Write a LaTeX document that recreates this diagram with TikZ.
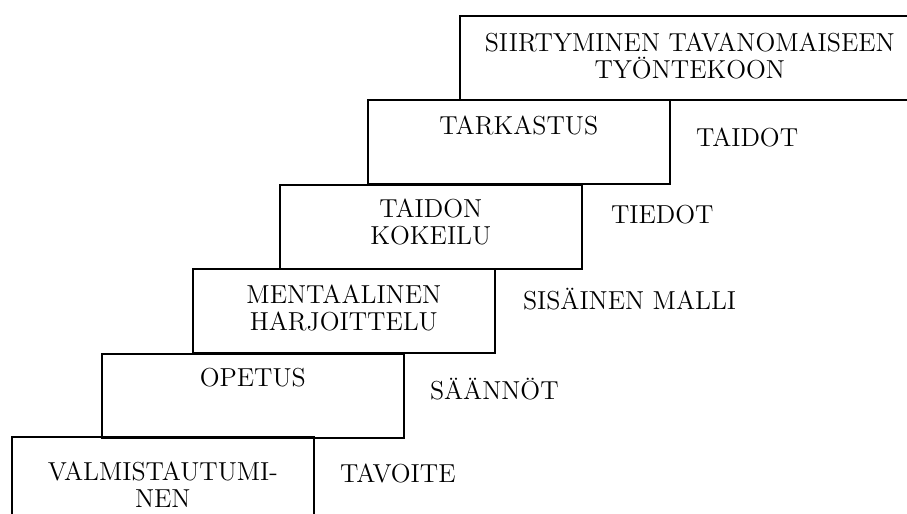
\documentclass[tikz,border=0pt]{standalone}
\usepackage{tikz}
\usetikzlibrary{positioning}

\tikzset{
  stepbox/.style={draw, line width=0.8pt, anchor=north west, minimum width=151pt, minimum height=42pt, inner sep=0pt},
  steptext/.style={inner sep=0pt, align=center, font=\fontsize{13}{13.5}\selectfont},
  sidetext/.style={inner sep=0pt, text height=8.9pt, text depth=0pt, font=\fontsize{13}{13.5}\selectfont}
}

\begin{document}
\begin{tikzpicture}[x=0.5pt, y=-0.5pt]
  \useasboundingbox (0,0) rectangle (907,514);
  % portaat
  \node[stepbox] (valm) at (11,436) {};
  \node[stepbox] (opet) at (101,353) {};
  \node[stepbox] (ment) at (192,268) {};
  \node[stepbox] (kok) at (279,184) {};
  \node[stepbox] (tark) at (367,99) {};
  \node[stepbox, minimum width=230pt] (siirt) at (459,15) {};
  % tekstit laatikoissa
  \node[steptext, below=13pt of valm.north] (valmt) {VALMISTAUTUMI-\\NEN};
  \node[steptext, below=7.5pt of opet.north] (opett) {OPETUS};
  \node[steptext, below=8.5pt of ment.north] (mentt) {MENTAALINEN\\HARJOITTELU};
  \node[steptext, below=7.5pt of kok.north] (kokt) {TAIDON\\KOKEILU};
  \node[steptext, below=8.5pt of tark.north] (tarkt) {TARKASTUS};
  \node[steptext, below=9pt of siirt.north] (siirtt) {SIIRTYMINEN TAVANOMAISEEN\\TY\"ONTEKOON};
  % tulokset oikealla
  \node[sidetext, below right=14pt and 12.5pt of valm.north east] (tavoite) {TAVOITE};
  \node[sidetext, below right=14pt and 12.5pt of opet.north east] (saannot) {S\"A\"ANN\"OT};
  \node[sidetext, below right=11.5pt and 13.5pt of ment.north east] (malli) {SIS\"AINEN MALLI};
  \node[sidetext, below right=10.5pt and 14pt of kok.north east] (tiedot) {TIEDOT};
  \node[sidetext, below right=14.5pt and 12.5pt of tark.north east] (taidot) {TAIDOT};
\end{tikzpicture}
\end{document}
